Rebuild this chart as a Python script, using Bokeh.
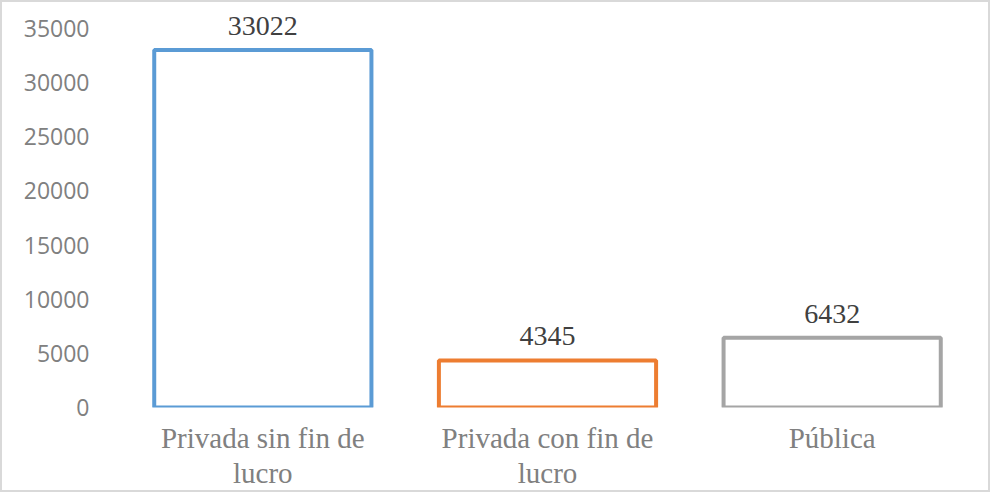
from bokeh.plotting import figure
from bokeh.models import ColumnDataSource, FactorRange, Range1d, FixedTicker, LabelSet
from bokeh.embed import file_html
from bokeh.resources import INLINE

categories = ["Privada sin fin de\nlucro", "Privada con fin de\nlucro", "Pública"]
values = [33022, 4345, 6432]
colors = ["#5b9bd5", "#ed7d31", "#a5a5a5"]
y_ticks = [0, 5000, 10000, 15000, 20000, 25000, 30000, 35000]

source = ColumnDataSource(dict(cat=categories, val=values, col=colors,
                               lab=[str(v) for v in values]))

p = figure(width=990, height=492, output_backend="svg", toolbar_location=None,
           x_range=FactorRange(*categories, range_padding=0),
           y_range=Range1d(0, 37400))
p.styles = {"border": "2px solid #d9d9d9", "box-sizing": "border-box"}
p.min_border_left = 118
p.min_border_right = 18
p.min_border_top = 0
p.min_border_bottom = 87
p.outline_line_color = None
p.background_fill_color = "white"
p.border_fill_color = "white"
p.grid.visible = False

p.vbar(x="cat", top="val", width=0.763, source=source,
       fill_color="white", line_color="col", line_width=4)

labels = LabelSet(x="cat", y="val", text="lab", source=source,
                  text_align="center", text_baseline="alphabetic", y_offset=15,
                  text_font="Liberation Serif", text_font_size="28px",
                  text_color="#404040")
p.add_layout(labels)

p.yaxis.ticker = FixedTicker(ticks=y_ticks)
p.yaxis.axis_line_color = None
p.yaxis.major_tick_line_color = None
p.yaxis.minor_tick_line_color = None
p.yaxis.major_label_text_font = "Open Sans"
p.yaxis.major_label_text_font_size = "23px"
p.yaxis.major_label_text_color = "#808080"
p.yaxis.major_label_standoff = 25

p.xaxis.axis_line_color = None
p.xaxis.major_tick_line_color = None
p.xaxis.minor_tick_line_color = None
p.xaxis.major_label_text_font = "Liberation Serif"
p.xaxis.major_label_text_font_size = "29px"
p.xaxis.major_label_text_color = "#808080"
p.xaxis.major_label_text_line_height = 1.1
p.xaxis.major_label_standoff = 8

open("out.html", "w").write(file_html(p, INLINE))
